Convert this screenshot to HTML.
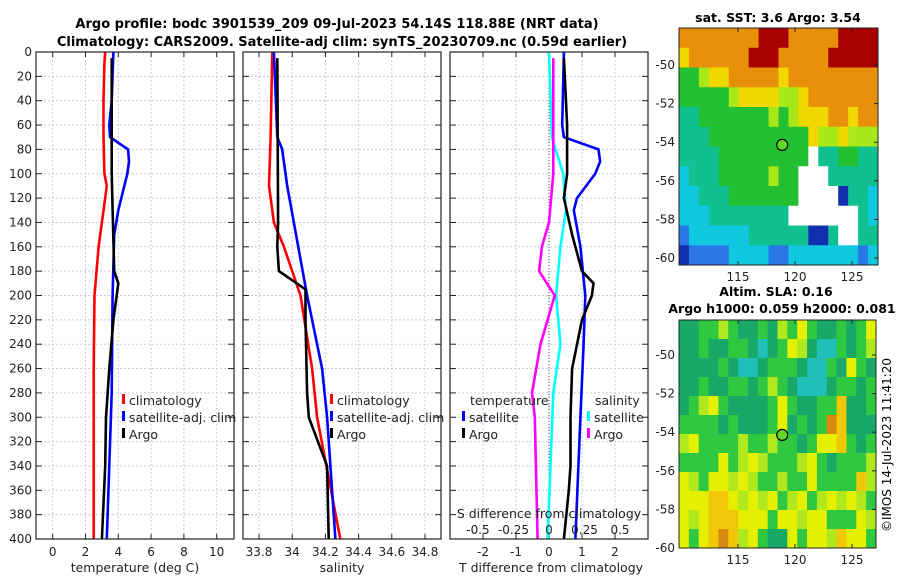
<!DOCTYPE html>
<html><head><meta charset="utf-8">
<style>
html,body{margin:0;padding:0;background:#fff;}
svg{display:block;font-family:"DejaVu Sans","Liberation Sans",sans-serif;}
</style></head>
<body>
<svg id="fig" width="900" height="580" viewBox="0 0 900 580">
<text x="337" y="28" font-size="13" font-weight="bold" text-anchor="middle">Argo profile: bodc 3901539_209 09-Jul-2023 54.14S 118.88E (NRT data)</text>
<text x="342" y="46" font-size="13" font-weight="bold" text-anchor="middle">Climatology: CARS2009. Satellite-adj clim: synTS_20230709.nc (0.59d earlier)</text>
<text x="778" y="22" font-size="12.5" font-weight="bold" text-anchor="middle">sat. SST: 3.6 Argo: 3.54</text>
<text x="776" y="296" font-size="12.5" font-weight="bold" text-anchor="middle">Altim. SLA: 0.16</text>
<text x="782" y="313" font-size="12.5" font-weight="bold" text-anchor="middle">Argo h1000: 0.059 h2000: 0.081</text>
<text transform="translate(891,445) rotate(-90)" font-size="12" text-anchor="middle">©IMOS 14-Jul-2023 11:41:20</text>
<g id="g"></g>
</svg>
<script>
// ---------- data ----------
const depthTicks=[0,20,40,60,80,100,120,140,160,180,200,220,240,260,280,300,320,340,360,380,400];
const tTicks=[0,2,4,6,8,10];
const sTicks=[33.8,34,34.2,34.4,34.6,34.8];
const sTickLabels=["33.8","34","34.2","34.4","34.6","34.8"];
const dTicks=[-2,-1,0,1,2];
const sdTicks=[-0.5,-0.25,0,0.25,0.5];
const sdTickLabels=["-0.5","-0.25","0","0.25","0.5"];

const climTDepth=[0,10,40,70,100,110,140,160,200,260,300,400];
const climT=[3.2,3.15,3.1,3.1,3.15,3.3,3.0,2.8,2.55,2.5,2.5,2.5];
const satTDepth=[0,40,60,70,80,90,100,130,150,200,280,300,400];
const satT=[3.7,3.6,3.45,3.5,4.6,4.65,4.55,4.0,3.75,3.65,3.6,3.55,3.3];
const argoTDepth=[5,60,100,180,190,200,220,260,300,340,400];
const argoT=[3.6,3.6,3.6,3.75,4.0,3.9,3.7,3.45,3.25,3.2,3.0];

const climSDepth=[0,70,110,140,160,200,260,300,400];
const climS=[33.88,33.87,33.86,33.89,33.95,34.05,34.12,34.15,34.29];
const satSDepth=[0,70,80,110,200,260,300,400];
const satS=[33.89,33.91,33.94,33.97,34.09,34.18,34.21,34.26];
const argoSDepth=[5,140,160,180,195,220,280,300,340,400];
const argoS=[33.91,33.915,33.91,33.92,34.08,34.08,34.09,34.1,34.21,34.22];

const satDTDepth=[0,60,70,80,90,100,120,130,160,200,240,300,400];
const satDT=[0.45,0.4,0.45,1.5,1.55,1.4,0.85,0.75,0.95,1.1,1.05,0.95,0.8];
const argoDTDepth=[5,60,100,120,150,170,180,190,200,220,260,300,340,360,400];
const argoDT=[0.45,0.55,0.55,0.45,0.7,0.9,1.0,1.35,1.3,1.0,0.7,0.65,0.65,0.6,0.45];
const satDSDepth=[0,70,100,130,160,200,240,280,400];
const satDS=[0.0,0.02,0.1,0.12,0.08,0.05,0.08,0.03,-0.01];
const argoDSDepth=[5,100,140,160,180,200,240,280,300,400];
const argoDS=[0.03,0.03,0.0,-0.05,-0.07,0.04,-0.06,-0.12,-0.1,-0.08];

const sstRows=[
"OOOOOOOORRROOOOORRRR",
"YOOOOOORRROOOOORRRRR",
"GGLYYOOOOOYOOOOOOOOO",
"GGGGGLYYYYLLYOOOOOOO",
"TTGGGGGGGLGLYYYOOYOO",
"TTTGGGGGGGGGGYLLYLLL",
"TTTTGGGGGGGGGWTTGGTT",
"CTTTGGGGGLGGWWWTTTTT",
"CCTTTGGGGGGGWWWWDTTC",
"CCCTTTTTTTTWWWWWWWTC",
"BCCCCCCTTTTTTDDTWWTT",
"DBBBBCCCCBBCCCCCCCBC"];
const slaRows=[
"kkgglgkkgklgygkkgkgy",
"kkgkkggkckgylkccgkgl",
"kkkkgkcckgggkccgkygk",
"kkgkkggkglgkccckggkg",
"kglygkkkkgygkkggokkg",
"ggggkgkkkgykgkgrokkk",
"lygggglgglggkgyyogkg",
"ggggyglylggglygkgggl",
"ylgyylylgglggyggggol",
"yyyooylylyglyglylylg",
"ylyoooyyygyylyygggyl",
"ygyorolygkkygyyloyyg"];
const sstLatTicks=[-50,-52,-54,-56,-58,-60];
const lonTicks=[115,120,125];

// ---------- helpers ----------
const NS="http://www.w3.org/2000/svg";
const G=document.getElementById('g');
function el(t,a,p){const e=document.createElementNS(NS,t);for(const k in a)e.setAttribute(k,a[k]);(p||G).appendChild(e);return e;}
const Y0=52,Y1=539;
const yD=d=>Y0+(Y1-Y0)*d/400;
function lin(d0,d1,p0,p1){return v=>p0+(v-d0)*(p1-p0)/(d1-d0);}
const xT=lin(0,10,52.7,216.7);
const xS=lin(33.8,34.8,259,425);
const xDT=lin(-2,2,483,615);
const xDS=lin(-0.5,0.5,478,620);

function panel(x0,x1,name,xticks,xlab,xfn){
  const g=el('g',{});
  
  
  el('rect',{x:x0,y:Y0,width:x1-x0,height:Y1-Y0,fill:'#fff'},g);
  depthTicks.forEach(d=>{
    if(d>0&&d<400) el('line',{x1:x0,x2:x1,y1:yD(d),y2:yD(d),stroke:'#c8cbe6','stroke-width':1,'stroke-dasharray':'2,2'},g);
    el('line',{x1:x0,x2:x0+6,y1:yD(d),y2:yD(d),stroke:'#222'},g);
    el('line',{x1:x1-6,x2:x1,y1:yD(d),y2:yD(d),stroke:'#222'},g);
  });
  xticks.forEach((v,i)=>{
    const x=xfn(v);
    el('line',{x1:x,x2:x,y1:Y0,y2:Y1,stroke:'#c8cbe6','stroke-width':1,'stroke-dasharray':'2,2'},g);
    el('line',{x1:x,x2:x,y1:Y1,y2:Y1-5,stroke:'#222'},g);
    el('line',{x1:x,x2:x,y1:Y0,y2:Y0+5,stroke:'#222'},g);
    const t=el('text',{x:x,y:556,'font-size':12,'text-anchor':'middle',fill:'#222'},g);
    t.textContent=xlab[i];
    
    
  });
  return g;
}
function frame(x0,x1,name){
  const r=el('rect',{x:x0,y:Y0,width:x1-x0,height:Y1-Y0,fill:'none',stroke:'#222','stroke-width':1.2});
  
  
}
function line(xs,ds,xfn,color,name){
  const pts=xs.map((v,i)=>xfn(v).toFixed(1)+','+yD(ds[i]).toFixed(1)).join(' ');
  const p=el('polyline',{points:pts,fill:'none',stroke:color,'stroke-width':2.6,'stroke-linejoin':'round'});
  
  
}
function txt(x,y,s,size,name,anchor){
  const t=el('text',{x:x,y:y,'font-size':size,'text-anchor':anchor||'start',fill:'#222'});
  t.textContent=s;
  
  
  return t;
}
function legEntry(x,y,color,label){
  const r=el('rect',{x:x,y:y-11,width:3,height:10,fill:color});
  
  
  txt(x+7,y,label,12.5,'legend-entry');
}

// ---------- panels ----------
panel(36,234,'temperature-panel',tTicks,tTicks.map(String),xT);
panel(243,441,'salinity-panel',sTicks,sTickLabels,xS);
panel(450,648,'difference-panel',dTicks,dTicks.map(String),xDT);
depthTicks.forEach(d=>{txt(32,yD(d)+4,String(d),12,'y-tick-label','end');});
const zl=el('line',{x1:xDT(0),x2:xDT(0),y1:Y0,y2:Y1,stroke:'#555','stroke-dasharray':'1,2'});



line(climT,climTDepth,xT,'#ff0000','clim-temperature-line');
line(satT,satTDepth,xT,'#0000ff','sat-temperature-line');
line(argoT,argoTDepth,xT,'#000','argo-temperature-line');
line(climS,climSDepth,xS,'#ff0000','clim-salinity-line');
line(satS,satSDepth,xS,'#0000ff','sat-salinity-line');
line(argoS,argoSDepth,xS,'#000','argo-salinity-line');
line(satDS,satDSDepth,xDS,'#00ffff','sat-s-diff-line');
line(argoDS,argoDSDepth,xDS,'#ff00ff','argo-s-diff-line');
line(satDT,satDTDepth,xDT,'#0000ff','sat-t-diff-line');
line(argoDT,argoDTDepth,xDT,'#000','argo-t-diff-line');

frame(36,234,'temperature-panel-frame');
frame(243,441,'salinity-panel-frame');
frame(450,648,'difference-panel-frame');

// legends
legEntry(122,405,'#ff0000','climatology');
legEntry(122,422,'#0000ff','satellite-adj. clim');
legEntry(122,439,'#000','Argo');
legEntry(330,405,'#ff0000','climatology');
legEntry(330,422,'#0000ff','satellite-adj. clim');
legEntry(330,439,'#000','Argo');
txt(470,405,'temperature',12.5,'legend-title-temperature');
legEntry(462,422,'#0000ff','satellite');
legEntry(462,439,'#000','Argo');
txt(595,405,'salinity',12.5,'legend-title-salinity');
legEntry(587,422,'#00ffff','satellite');
legEntry(587,439,'#ff00ff','Argo');

// axis labels
txt(135,572,'temperature (deg C)',12.5,'x-axis-title-temperature','middle');
txt(342,572,'salinity',12.5,'x-axis-title-salinity','middle');
txt(551,572,'T difference from climatology',12.5,'x-axis-title-t-diff','middle');
txt(549,518,'S difference from climatology',12.5,'s-diff-axis-title','middle');
sdTicks.forEach((v,i)=>txt(xDS(v),534,sdTickLabels[i],12,'s-diff-tick-label','middle'));

// ---------- maps ----------
const sstCol={R:'#a80000',O:'#e8900a',Y:'#f0d800',L:'#a8e818',G:'#22c032',T:'#10c090',C:'#10c8e0',B:'#2a78e8',D:'#1030b0',W:'#ffffff'};
const slaCol={k:'#18a868',g:'#30c840',l:'#b0e820',y:'#e4f000',o:'#f0c808',r:'#d88a10',c:'#20c0b8'};
function map(x0,y0,w,h,rows,cols,name,latLab,lat0,lat1,lonA,lonB,ptLat,ptLon){
  const g=el('g',{});
  
  
  const nr=rows.length,nc=rows[0].length,cw=w/nc,ch=h/nr;
  rows.forEach((r,i)=>{for(let j=0;j<nc;j++){
    el('rect',{x:x0+j*cw,y:y0+i*ch,width:cw+0.5,height:ch+0.5,fill:cols[r[j]]},g);
  }});
  el('rect',{x:x0,y:y0,width:w,height:h,fill:'none',stroke:'#222'},g);
  const yL=lin(lat0,lat1,latLab[0],latLab[1]);
  const xL=lin(115,125,lonA,lonB);
  sstLatTicks.forEach(v=>{
    const y=yL(v);
    el('line',{x1:x0+w,x2:x0+w-4,y1:y,y2:y,stroke:'#222'},g);
    txt(x0-4,y+4,String(v),12,'lat-tick-label','end');
  });
  lonTicks.forEach(v=>{
    const x=xL(v);
    el('line',{x1:x,x2:x,y1:y0+h,y2:y0+h-4,stroke:'#222'},g);
    el('line',{x1:x,x2:x,y1:y0,y2:y0+4,stroke:'#222'},g);
    txt(x,y0+h+16,String(v),12,'lon-tick-label','middle');
  });
  const c=el('circle',{cx:xL(ptLon),cy:yL(ptLat),r:5.5,fill:'#5fd82a',stroke:'#000','stroke-width':1.2});
  
  
}
map(679,28,199,237,sstRows,sstCol,'sst-map',[65,258],-50,-60,738,852,-54.14,118.88);
map(679,320,197,228,slaRows,slaCol,'sla-map',[355,548],-50,-60,738,852,-54.14,118.88);
</script>
</body></html>
